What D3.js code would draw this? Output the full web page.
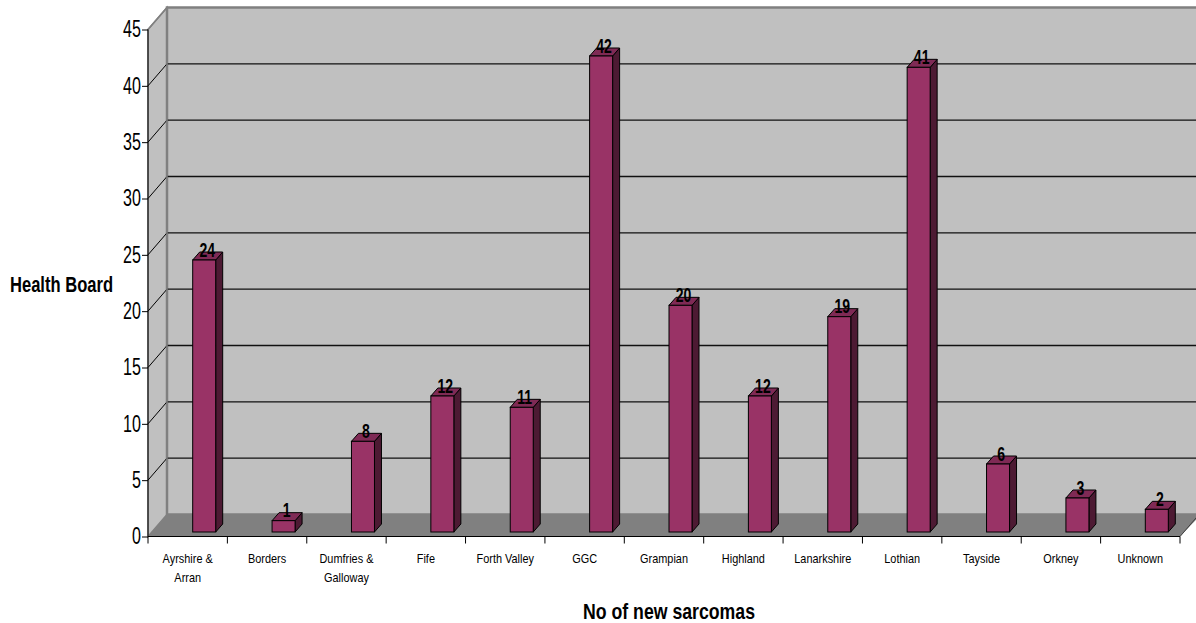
<!DOCTYPE html>
<html>
<head>
<meta charset="utf-8">
<script src="https://cdn.jsdelivr.net/npm/d3@7/dist/d3.min.js"></script>
<style>
  html, body { margin: 0; padding: 0; background: #ffffff; }
  svg { display: block; }
  text { font-family: "Liberation Sans Narrow", "Arial Narrow", "Liberation Sans", Arial, sans-serif; }
</style>
</head>
<body>
<svg id="chart" width="1196" height="623"></svg>
<script>
const categories = ["Ayrshire & Arran", "Borders", "Dumfries & Galloway", "Fife", "Forth Valley", "GGC", "Grampian", "Highland", "Lanarkshire", "Lothian", "Tayside", "Orkney", "Unknown"];
const categoryLines = [["Ayrshire &", "Arran"], ["Borders"], ["Dumfries &", "Galloway"], ["Fife"], ["Forth Valley"], ["GGC"], ["Grampian"], ["Highland"], ["Lanarkshire"], ["Lothian"], ["Tayside"], ["Orkney"], ["Unknown"]];
const values = [24, 1, 8, 12, 11, 42, 20, 12, 19, 41, 6, 3, 2];
const yTicks = [0, 5, 10, 15, 20, 25, 30, 35, 40, 45];
const yTitle = "Health Board";
const xTitle = "No of new sarcomas";

const svg = d3.select("#chart");

// geometry
const left = 148, right = 1180;
const dX = 19, dY = -22;          // depth offset of back wall
const barDX = 7, barDY = -8;      // depth of a bar

const x = d3.scaleBand().domain(categories).range([left, right]).paddingInner(0).paddingOuter(0);
const y = d3.scaleLinear().domain([0, 45]).range([536.5, 29.5]);
const yBar = d3.scaleLinear().domain([0, 45]).range([532, 22]);

// condensed text helper
function ctext(parent, tx, ty, s, str, size, bold, anchor) {
  const g = parent.append("g").attr("transform", `translate(${tx},${ty}) scale(${s},1)`);
  return g.append("text").attr("x", 0).attr("y", 0)
    .attr("text-anchor", anchor || "middle")
    .attr("font-size", size).attr("font-weight", bold ? "bold" : "normal")
    .attr("fill", "#000").text(str);
}

// left side wall
svg.append("path")
  .attr("d", `M${left},${y(45)} L${left + dX},${y(45) + dY} L${left + dX},${y(0) + dY} L${left},${y(0)} Z`)
  .attr("fill", "#c0c0c0").attr("stroke", "#808080").attr("stroke-width", 1.5);

// back wall
svg.append("rect")
  .attr("x", left + dX).attr("y", y(45) + dY)
  .attr("width", 1250 - (left + dX)).attr("height", y(0) - y(45))
  .attr("fill", "#c0c0c0").attr("stroke", "#808080").attr("stroke-width", 2.5);

// floor
svg.append("path")
  .attr("d", `M${left},${y(0)} L${left + dX},${y(0) + dY} L${1200},${y(0) + dY} L${1200},${y(0) + dY + 1} L${right},${y(0)} Z`)
  .attr("fill", "#808080");

// gridlines
const grid = svg.append("g");
yTicks.filter(t => t > 0 && t < 45).forEach(t => {
  grid.append("line")
    .attr("x1", left).attr("y1", y(t)).attr("x2", left + dX).attr("y2", y(t) + dY)
    .attr("stroke", "#000").attr("stroke-width", 1);
  grid.append("line")
    .attr("x1", left + dX).attr("y1", y(t) + dY).attr("x2", 1200).attr("y2", y(t) + dY)
    .attr("stroke", "#111").attr("stroke-width", 1.3);
});
// wall edge lines
svg.append("line").attr("x1", left + dX).attr("y1", y(45) + dY).attr("x2", left + dX).attr("y2", y(0) + dY)
  .attr("stroke", "#808080").attr("stroke-width", 1.5);
svg.append("line").attr("x1", left).attr("y1", y(45)).attr("x2", left + dX).attr("y2", y(45) + dY)
  .attr("stroke", "#808080").attr("stroke-width", 1.5);
// floor right edge
svg.append("line").attr("x1", right).attr("y1", y(0)).attr("x2", right + dX).attr("y2", y(0) + dY)
  .attr("stroke", "#404040").attr("stroke-width", 1);

// bars
const barW = 23;
const bars = svg.append("g");
categories.forEach((c, i) => {
  const cx = x(c) + x.bandwidth() / 2 + 16.5;
  const x0 = cx - barW / 2, x1 = cx + barW / 2;
  const yb = yBar(0), yt = yBar(values[i]);
  bars.append("path")
    .attr("d", `M${x1},${yt} L${x1 + barDX},${yt + barDY} L${x1 + barDX},${yb + barDY} L${x1},${yb} Z`)
    .attr("fill", "#4d1a33").attr("stroke", "#000").attr("stroke-width", 1).attr("stroke-linejoin", "round");
  bars.append("path")
    .attr("d", `M${x0},${yt} L${x0 + barDX},${yt + barDY} L${x1 + barDX},${yt + barDY} L${x1},${yt} Z`)
    .attr("fill", "#7f2a55").attr("stroke", "#000").attr("stroke-width", 1).attr("stroke-linejoin", "round");
  bars.append("rect")
    .attr("x", x0).attr("y", yt).attr("width", barW).attr("height", yb - yt)
    .attr("fill", "#993366").attr("stroke", "#000").attr("stroke-width", 1);
  ctext(bars, cx + 3, yt - 3.5, 0.72, values[i], 19.5, true);
});

// y axis
const yAxis = d3.axisLeft(y).tickValues(yTicks).tickSize(6).tickPadding(1);
const gy = svg.append("g").attr("transform", `translate(${left},0)`).call(yAxis);
gy.select(".domain").attr("stroke", "#000").attr("d", `M0,${y(45)}V${y(0)}`);
gy.selectAll(".tick line").attr("stroke", "#000");
gy.selectAll(".tick text")
  .attr("font-size", 23).attr("fill", "#000")
  .attr("font-family", "'Liberation Sans Narrow', 'Arial Narrow', 'Liberation Sans', sans-serif")
  .attr("x", -7 / 0.7)
  .attr("transform", "scale(0.7,1)");

// x axis
const xAxis = d3.axisBottom(x).tickSize(0).tickFormat(() => "");
const gx = svg.append("g").attr("transform", `translate(0,${y(0)})`).call(xAxis);
gx.select(".domain").attr("stroke", "#000").attr("d", `M${left},0H${right}`);
const bounds = categories.map(c => x(c)).concat([right]);
gx.selectAll(".bound").data(bounds).enter().append("line")
  .attr("x1", d => d).attr("x2", d => d).attr("y1", 0).attr("y2", 7)
  .attr("stroke", "#000");
const xl = svg.append("g");
categories.forEach((c, i) => {
  categoryLines[i].forEach((ln, j) => {
    ctext(xl, x(c) + x.bandwidth() / 2, 562.5 + j * 19.5, 0.84, ln, 13, false);
  });
});

// titles
svg.append("text").attr("x", 10).attr("y", 292).attr("text-anchor", "start")
  .attr("font-size", 22).attr("font-weight", "bold")
  .attr("textLength", 103).attr("lengthAdjust", "spacingAndGlyphs").text(yTitle);
svg.append("text").attr("x", 583).attr("y", 619).attr("text-anchor", "start")
  .attr("font-size", 22).attr("font-weight", "bold")
  .attr("textLength", 172).attr("lengthAdjust", "spacingAndGlyphs").text(xTitle);
</script>
</body>
</html>
